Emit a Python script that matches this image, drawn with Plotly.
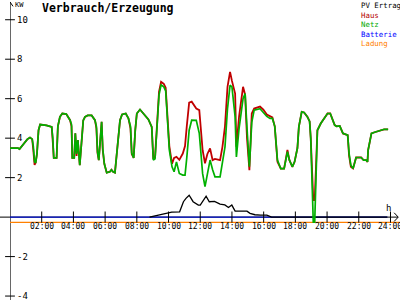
import plotly.graph_objects as go

# ---------------- data (hours, kW) ----------------
t_hn = [0.00, 0.50, 0.60, 0.85, 1.10, 1.26, 1.40, 1.47, 1.55, 1.62, 1.70, 1.80, 1.90, 2.30, 2.63, 2.70, 2.76, 2.94,
        3.02, 3.15, 3.30, 3.55, 3.79, 3.88, 3.93, 4.05, 4.12, 4.20, 4.28, 4.40, 4.50, 4.62, 4.73, 4.90, 5.15, 5.36,
        5.45, 5.52, 5.60, 5.70, 5.78, 5.85, 5.95, 6.10, 6.30, 6.40, 6.50, 6.62, 6.73, 6.85, 6.94, 7.07, 7.30, 7.47,
        7.60, 7.68, 7.80, 7.90, 8.00, 8.20, 8.40, 8.73, 8.94, 9.04, 9.15, 9.25, 9.40, 9.53, 9.70, 9.82, 9.90, 10.05,
        10.22, 10.35, 10.50, 10.68, 10.90, 11.04, 11.15, 11.30, 11.46, 11.75, 11.94, 12.00, 12.15, 12.30, 12.45,
        12.62, 12.78, 12.93, 13.25, 13.40, 13.56, 13.72, 13.88, 14.00, 14.20, 14.28, 14.45, 14.70, 14.83, 14.95,
        15.10, 15.25, 15.40, 15.77, 15.98, 16.20, 16.40, 16.55, 16.70, 16.80, 16.87, 17.08, 17.29, 17.50, 17.62,
        17.81, 17.95, 18.13, 18.22, 18.40, 18.55, 18.76, 18.90, 18.97, 19.05, 19.13, 19.22, 19.30, 19.39, 19.60,
        19.80, 20.03, 20.20, 20.30, 20.48, 20.60, 20.80, 21.00, 21.30, 21.39, 21.50, 21.64, 21.75, 21.83, 22.15,
        22.30, 22.46, 22.55, 22.59, 22.70, 22.80, 23.00, 23.20, 23.43, 23.60, 23.85]

netz = [3.50, 3.50, 3.45, 3.70, 3.95, 4.03, 3.95, 3.60, 2.80, 2.75, 3.20, 4.40, 4.69, 4.65, 4.57, 4.00, 3.00, 3.00,
        4.60, 5.08, 5.25, 5.22, 4.91, 4.70, 3.00, 3.00, 4.25, 3.20, 3.90, 2.63, 3.60, 4.90, 5.08, 5.15, 5.15, 4.91,
        4.60, 3.31, 2.89, 4.00, 4.83, 3.49, 2.70, 2.25, 2.30, 2.40, 2.30, 2.25, 3.20, 4.50, 4.91, 5.20, 5.25, 5.00,
        4.60, 3.24, 3.00, 4.40, 5.25, 5.45, 5.25, 4.95, 4.57, 2.89, 2.95, 4.50, 6.20, 6.70, 6.60, 6.40, 5.50, 3.40,
        2.55, 2.30, 2.80, 2.21, 2.13, 2.13, 3.00, 4.40, 4.91, 4.90, 4.24, 3.60, 2.20, 1.54, 2.20,
        2.89, 2.40, 2.04, 2.04, 2.80, 3.56, 5.50, 6.68, 6.60, 5.08, 3.05, 4.50, 6.00, 6.26, 4.50,
        2.55, 4.80, 5.42, 5.49, 5.30, 5.10, 5.00, 5.00, 4.60, 3.50, 2.89, 2.46, 2.46, 3.31, 2.90,
        2.55, 2.80, 3.50, 4.57, 5.33, 5.30, 5.08, 4.85, 4.00, 2.00, -0.25, -0.25, 2.50, 4.40, 4.74,
        5.00, 5.25, 5.25, 5.00, 4.66, 4.60, 4.62, 4.24, 4.15, 3.22, 2.63, 2.46, 2.89, 3.02, 3.02,
        2.89, 2.89, 2.80, 3.40, 3.80, 4.24, 4.30, 4.35, 4.40, 4.45, 4.45]

haus = [3.50, 3.50, 3.45, 3.70, 3.95, 4.03, 3.95, 3.40, 2.65, 2.75, 3.20, 4.40, 4.69, 4.65, 4.57, 3.80, 3.00, 3.00,
        4.60, 5.08, 5.25, 5.22, 4.91, 4.60, 3.00, 3.00, 4.25, 3.10, 3.90, 2.63, 3.60, 4.90, 5.08, 5.15, 5.15, 4.91,
        4.50, 3.25, 2.89, 4.00, 4.83, 3.40, 2.70, 2.25, 2.30, 2.40, 2.30, 2.25, 3.20, 4.50, 4.91, 5.20, 5.25, 5.00,
        4.50, 3.20, 3.00, 4.40, 5.25, 5.45, 5.25, 4.95, 4.57, 2.95, 3.05, 4.60, 6.35, 6.85, 6.75, 6.55, 5.60, 3.60,
        2.70, 3.00, 3.05, 2.90, 3.22, 3.60, 4.60, 5.80, 5.85, 5.50, 5.42, 4.83, 3.39, 2.73, 3.20,
        3.48, 2.89, 2.95, 2.89, 3.56, 4.60, 6.60, 7.36, 6.90, 6.26, 3.56, 5.10, 6.60, 6.20, 4.00,
        2.38, 5.25, 5.50, 5.60, 5.45, 5.20, 5.10, 5.05, 4.60, 3.40, 2.80, 2.46, 2.46, 3.40, 2.90,
        2.55, 2.80, 3.50, 4.57, 5.33, 5.30, 5.08, 4.85, 4.00, 2.00, 0.86, 0.86, 2.50, 4.40, 4.74,
        5.00, 5.25, 5.25, 5.00, 4.66, 4.60, 4.62, 4.24, 4.15, 3.10, 2.55, 2.46, 2.89, 3.02, 3.02,
        2.89, 2.89, 2.80, 3.40, 3.80, 4.24, 4.30, 4.35, 4.40, 4.45, 4.45]

t_pv = [8.80, 9.40, 9.90, 10.20, 10.70, 10.94, 11.10, 11.30, 11.55, 11.88, 12.00, 12.20, 12.37, 12.57, 12.90,
        13.25, 13.55, 13.78, 13.99, 14.20, 14.60, 14.95, 15.14, 15.45, 15.80, 16.20, 16.50, 23.80]
pv = [0.00, 0.12, 0.19, 0.25, 0.27, 0.78, 0.95, 1.11, 0.78, 0.61, 0.61, 0.85, 1.06, 0.78, 0.80,
      0.66, 0.62, 0.49, 0.61, 0.30, 0.30, 0.30, 0.19, 0.12, 0.10, 0.10, 0.00, 0.00]

t_bat = [0.0, 23.8]
batterie = [0.0, 0.0]
t_lad = [0.0, 24.6]
ladung = [-0.27, -0.27]

x_ticks = [2, 4, 6, 8, 10, 12, 14, 16, 18, 20, 22, 24]
x_labels = ["02:00", "04:00", "06:00", "08:00", "10:00", "12:00", "14:00", "16:00", "18:00", "20:00", "22:00", "24:00"]
y_ticks = [-4, -2, 2, 4, 6, 8, 10]
y_labels = ["-4", "-2", "2", "4", "6", "8", "10"]

legend_names = ["PV Ertrag", "Haus", "Netz", "Batterie", "Ladung"]
legend_colors = ["#000000", "#b40000", "#00a800", "#0000ff", "#ff8000"]

C_HAUS = "#c00000"
C_NETZ = "#00b000"
C_BAT = "#0010d0"
C_LAD = "#ff8000"
MONO = "DejaVu Sans Mono"

fig = go.Figure()

# axis lines
fig.add_shape(type="line", xref="paper", yref="y", x0=0, x1=0.995, y0=0, y1=0,
              line=dict(color="black", width=1), layer="below")
fig.add_shape(type="line", xref="x", yref="y", x0=0, x1=0, y0=10.9, y1=-4.3,
              line=dict(color="black", width=1.2), layer="below")
# arrow heads
fig.add_shape(type="path", xref="x", yref="y", path="M 24.23 0.22 L 24.49 0 L 24.23 -0.22",
              line=dict(color="black", width=1))
fig.add_shape(type="path", xref="x", yref="y", path="M -0.19 10.68 L 0 10.9 L 0.19 10.68",
              line=dict(color="black", width=1))

fig.add_trace(go.Scatter(x=t_bat, y=batterie, mode="lines", line=dict(color=C_BAT, width=1.3),
                         hoverinfo="skip", cliponaxis=False))
fig.add_trace(go.Scatter(x=t_lad, y=ladung, mode="lines", line=dict(color=C_LAD, width=1.3),
                         hoverinfo="skip", cliponaxis=False))
fig.add_trace(go.Scatter(x=t_pv, y=pv, mode="lines", line=dict(color="black", width=1.3), hoverinfo="skip"))
fig.add_trace(go.Scatter(x=t_hn, y=haus, mode="lines", line=dict(color=C_HAUS, width=1.8), hoverinfo="skip"))
fig.add_trace(go.Scatter(x=t_hn, y=netz, mode="lines", line=dict(color=C_NETZ, width=1.7), hoverinfo="skip"))

# tick marks crossing the axes
fig.add_trace(go.Scatter(x=x_ticks, y=[0] * len(x_ticks), mode="markers", cliponaxis=False,
                         marker=dict(symbol="line-ns", size=8, line=dict(color="black", width=1)),
                         hoverinfo="skip"))
fig.add_trace(go.Scatter(x=[0] * len(y_ticks), y=y_ticks, mode="markers", cliponaxis=False,
                         marker=dict(symbol="line-ew", size=7, line=dict(color="black", width=1)),
                         hoverinfo="skip"))

fig.update_layout(
    width=400, height=300, margin=dict(l=0, r=0, t=0, b=0),
    paper_bgcolor="white", plot_bgcolor="white", showlegend=False,
    xaxis=dict(domain=[0.025, 1], range=[0, 24.6], showgrid=False, zeroline=False, showline=False,
               showticklabels=False, ticks=""),
    yaxis=dict(domain=[0, 1], range=[-4.2, 11.0], showgrid=False, zeroline=False, showline=False,
               showticklabels=False, ticks=""),
)

ann = []
for tv, lab in zip(x_ticks, x_labels):
    ann.append(dict(text=lab, x=tv, y=0, xref="x", yref="y", xanchor="center", yanchor="top",
                    yshift=-3, showarrow=False, font=dict(family=MONO, size=8, color="black")))
for tv, lab in zip(y_ticks, y_labels):
    ann.append(dict(text=lab, x=0, y=tv, xref="x", yref="y", xanchor="left", yanchor="middle",
                    xshift=5, showarrow=False, font=dict(family=MONO, size=9, color="black")))
ann.append(dict(text="<b>Verbrauch/Erzeugung</b>", x=40 / 400, y=1 - 8.5 / 300, xref="paper", yref="paper",
                xanchor="left", yanchor="middle", showarrow=False,
                font=dict(family=MONO, size=11.5, color="black")))
ann.append(dict(text="KW", x=13 / 400, y=1 - 5 / 300, xref="paper", yref="paper",
                xanchor="left", yanchor="middle", showarrow=False,
                font=dict(family=MONO, size=7, color="black")))
ann.append(dict(text="h", x=384 / 400, y=1 - 208 / 300, xref="paper", yref="paper",
                xanchor="left", yanchor="middle", showarrow=False,
                font=dict(family=MONO, size=9, color="black")))
legend_text = "<br>".join(f'<span style="color:{c}">{n}</span>' for n, c in zip(legend_names, legend_colors))
ann.append(dict(text=legend_text, x=359 / 400, y=1 + 1 / 300, xref="paper", yref="paper",
                xanchor="left", yanchor="top", align="left", showarrow=False,
                font=dict(family=MONO, size=7.4, color="black")))
fig.update_layout(annotations=ann)

fig.write_html("out.html")
